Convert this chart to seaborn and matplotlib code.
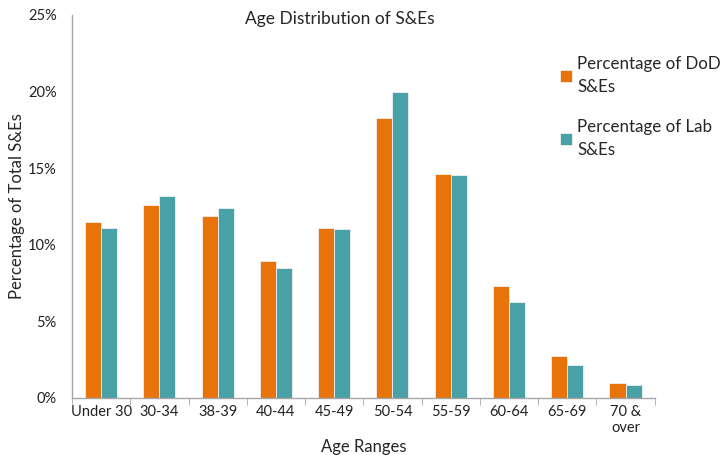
import numpy as np
import pandas as pd
import matplotlib
matplotlib.use('Agg')
import matplotlib.pyplot as plt
import seaborn as sns
from matplotlib.ticker import FuncFormatter, FixedLocator

# Datos
rangos = ['Under 30', '30-34', '38-39', '40-44', '45-49', '50-54',
          '55-59', '60-64', '65-69', '70 &\nover']
pct_dod = [11.5, 12.6, 11.85, 8.95, 11.1, 18.3, 14.6, 7.3, 2.75, 1.0]
pct_lab = [11.1, 13.15, 12.4, 8.45, 11.0, 20.0, 14.55, 6.25, 2.15, 0.85]
series = ['Percentage of DoD\nS&Es', 'Percentage of Lab\nS&Es']
colores = ['#E8730A', '#47A1A6']

df = pd.DataFrame({
    'Rango': rangos * 2,
    'Serie': [series[0]] * len(rangos) + [series[1]] * len(rangos),
    'Pct': pct_dod + pct_lab,
})

sns.set_style('white')
plt.rcParams['font.family'] = ['Lato', 'DejaVu Sans']

fig = plt.figure(figsize=(7.22, 4.55), dpi=100)
ax = fig.add_axes([0.0997, 0.1253, 0.807, 0.842])

sns.barplot(data=df, x='Rango', y='Pct', hue='Serie', palette=colores,
            saturation=1, width=0.55, edgecolor='#f0f0f0', linewidth=0.6, ax=ax)

ax.set_ylim(0, 25)
ax.set_xlim(-0.5, len(rangos) - 0.5)
ax.set_yticks([0, 5, 10, 15, 20, 25])
ax.yaxis.set_major_formatter(FuncFormatter(lambda v, _: f'{v:.0f}%'))

for lado in ['top', 'right']:
    ax.spines[lado].set_visible(False)
for lado in ['left', 'bottom']:
    ax.spines[lado].set_color('#a6a6a6')
    ax.spines[lado].set_linewidth(1)

# Marcas del eje X entre categorías (estilo Excel)
ax.tick_params(axis='x', which='major', length=0, labelsize=10.5, pad=5, labelcolor='#222222')
ax.xaxis.set_minor_locator(FixedLocator(np.arange(-0.5, len(rangos), 1)))
ax.tick_params(axis='x', which='minor', bottom=True, length=5, color='#a6a6a6', direction='out')
ax.tick_params(axis='y', length=5, color='#a6a6a6', direction='out', labelsize=10.5,
               labelcolor='#222222', pad=6)
ax.grid(False)

ax.set_xlabel('Age Ranges', fontsize=12, labelpad=3)
ax.set_ylabel('Percentage of Total S&Es', fontsize=12, labelpad=2)

fig.text(0.471, 0.958, 'Age Distribution of S&Es', ha='center', va='center', fontsize=12.5)

handles, labels = ax.get_legend_handles_labels()
ax.legend_.remove()
leg = fig.legend(handles, labels, loc='upper left', bbox_to_anchor=(0.755, 0.91),
                 frameon=False, fontsize=12.2, handlelength=0.7, handleheight=0.7,
                 handletextpad=0.3, labelspacing=1.4)
for t in leg.get_texts():
    t.set_linespacing(1.55)

plt.savefig('out.png', dpi=100)
